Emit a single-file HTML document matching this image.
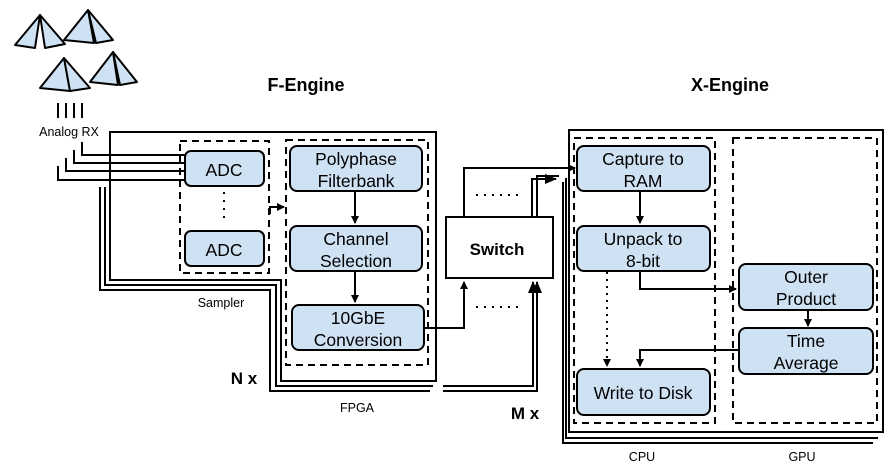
<!DOCTYPE html>
<html><head><style>body{margin:0;background:#fff}svg{display:block}</style></head><body>
<svg width="887" height="470" viewBox="0 0 887 470" xmlns="http://www.w3.org/2000/svg" font-family="Liberation Sans, sans-serif">
<defs><marker id="a" markerWidth="8" markerHeight="8" refX="7" refY="4" orient="auto" markerUnits="userSpaceOnUse"><path d="M0,0 L8,4 L0,8z" fill="#000"/></marker>
<marker id="b" markerWidth="12" markerHeight="10" refX="11" refY="5" orient="auto" markerUnits="userSpaceOnUse"><path d="M0,0 L12,5 L0,10z" fill="#000"/></marker></defs>
<g fill="#cfe2f3" stroke="#000" stroke-width="2" stroke-linejoin="round">
<polygon points="40,15 15,45 35,48"/><polygon points="40,15 45,48 65,44"/>
<polygon points="88,10 64,40 94,43"/><polygon points="88,10 96,43 113,40"/>
<polygon points="64,58 40,88 70,91"/><polygon points="64,58 70,91 90,88"/>
<polygon points="113,52 90,82 118,85"/><polygon points="113,52 120,85 137,82"/>
</g>
<g stroke="#000" stroke-width="2" fill="none">
<path d="M58,103V118M66,103V118M74,103V118M82,103V118"/>
<path d="M82,142V155H185M74,150V163H185M66,158V171H185M58,166V180H185"/>
<path d="M110,132H436V381H281V280H110Z"/>
<path d="M105,187V285H276V386H433"/>
<path d="M100,187V290H270V391H430"/>
<path d="M443,386H533V282" marker-end="url(#b)"/>
<path d="M443,391H537V282" marker-end="url(#b)"/>
<rect x="569" y="130" width="314" height="302"/>
<path d="M566,178V438H878"/>
<path d="M563,182V443H873"/>
<path d="M532,217V179H556" marker-end="url(#b)"/>
<path d="M537,217V176H559"/>
<path d="M464,217V168H575" marker-end="url(#a)"/>
<path d="M424,328H464V282" marker-end="url(#a)"/>
<rect x="446" y="217" width="107" height="61"/>
<path d="M270,214V207H284" marker-end="url(#a)"/>
<path d="M355,191V223" marker-end="url(#a)"/>
<path d="M355,271V302" marker-end="url(#a)"/>
<path d="M640,191V223" marker-end="url(#a)"/>
<path d="M640,271V289H736" marker-end="url(#a)"/>
<path d="M808,310V326" marker-end="url(#a)"/>
<path d="M739,350H640V366" marker-end="url(#a)"/>
<path d="M607,272V366" stroke-dasharray="2,5" marker-end="url(#a)"/>
<path d="M224,192V218" stroke-dasharray="2,6"/>
<path d="M476,195H518M476,307H518" stroke-dasharray="2,6"/>
</g>
<g stroke="#000" stroke-width="2" fill="none" stroke-dasharray="7,5">
<rect x="180" y="141" width="89" height="132"/>
<rect x="286" y="140" width="142" height="225"/>
<rect x="574" y="138" width="141" height="285"/>
<rect x="733" y="138" width="144" height="285"/>
</g>
<g fill="#cfe2f3" stroke="#000" stroke-width="2">
<rect x="185" y="151" width="79" height="35" rx="6"/>
<rect x="185" y="231" width="79" height="35" rx="6"/>
<rect x="290" y="146" width="132" height="45" rx="7"/>
<rect x="290" y="226" width="132" height="45" rx="7"/>
<rect x="292" y="305" width="132" height="45" rx="7"/>
<rect x="577" y="146" width="133" height="45" rx="7"/>
<rect x="577" y="226" width="133" height="45" rx="7"/>
<rect x="739" y="264" width="134" height="46" rx="7"/>
<rect x="739" y="328" width="134" height="46" rx="7"/>
<rect x="577" y="369" width="133" height="46" rx="7"/>
</g>
<g font-size="17.5" text-anchor="middle" fill="#000">
<text x="224" y="176">ADC</text><text x="224" y="256">ADC</text>
<text x="356" y="165">Polyphase</text><text x="356" y="187">Filterbank</text>
<text x="356" y="245">Channel</text><text x="356" y="267">Selection</text>
<text x="358" y="324">10GbE</text><text x="358" y="346">Conversion</text>
<text x="643" y="165">Capture to</text><text x="643" y="187">RAM</text>
<text x="643" y="245">Unpack to</text><text x="643" y="267">8-bit</text>
<text x="806" y="283">Outer</text><text x="806" y="305">Product</text>
<text x="806" y="347">Time</text><text x="806" y="369">Average</text>
<text x="643" y="399">Write to Disk</text>
</g>
<g font-weight="bold" text-anchor="middle">
<text x="306" y="91" font-size="18">F-Engine</text>
<text x="730" y="91" font-size="18">X-Engine</text>
<text x="497" y="255" font-size="17">Switch</text>
<text x="244" y="384" font-size="17">N x</text>
<text x="525" y="419" font-size="17">M x</text>
</g>
<g font-size="12.5" text-anchor="middle">
<text x="69" y="136">Analog RX</text>
<text x="221" y="307">Sampler</text>
<text x="357" y="412">FPGA</text>
<text x="642" y="461">CPU</text>
<text x="802" y="461">GPU</text>
</g>
</svg>
</body></html>
